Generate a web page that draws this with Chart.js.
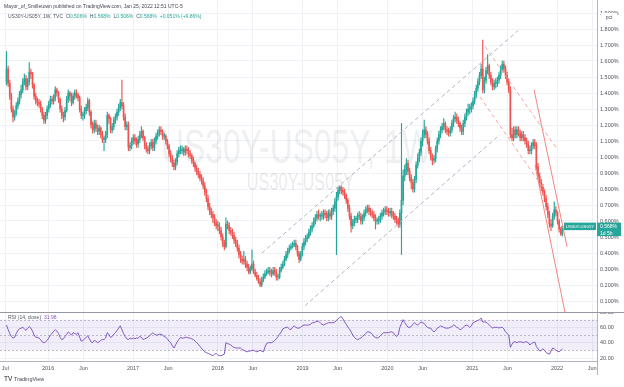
<!DOCTYPE html>
<html>
<head>
<meta charset="utf-8">
<script src="https://cdn.jsdelivr.net/npm/chart.js@4.4.1/dist/chart.umd.min.js"></script>
<style>
	html, body { margin: 0; padding: 0; background: #fff; }
	#wrap { position: relative; width: 624px; height: 387px; overflow: hidden; }
	canvas { position: absolute; left: 0; }
	#price { top: 0; }
	#rsi { top: 312px; }
</style>
</head>
<body>
<div id="wrap">
	<canvas id="price" width="624" height="312"></canvas>
	<canvas id="rsi" width="624" height="75"></canvas>
</div>
<script>
// weekly US30Y-US05Y spread (pct), first bar = week of 2015-07-06
const firstWeek = '2015-07-06';
const firstOpen = 1.47;
const closes = [
	1.55,1.46,1.38,1.30,1.25,1.27,1.32,1.35,1.39,1.42,
	1.47,1.49,1.44,1.47,1.53,1.52,1.45,1.38,1.35,1.34,
	1.33,1.30,1.26,1.23,1.26,1.30,1.33,1.36,1.35,1.37,
	1.42,1.40,1.36,1.30,1.26,1.25,1.29,1.36,1.40,1.38,
	1.34,1.38,1.40,1.39,1.37,1.30,1.26,1.26,1.29,1.31,
	1.35,1.28,1.20,1.17,1.21,1.18,1.16,1.18,1.14,1.11,
	1.11,1.14,1.26,1.24,1.17,1.19,1.23,1.25,1.28,1.31,
	1.34,1.32,1.25,1.19,1.20,1.06,1.07,1.10,1.12,1.10,
	1.08,1.11,1.14,1.16,1.12,1.07,1.05,1.04,1.07,1.09,
	1.06,1.10,1.13,1.15,1.17,1.16,1.13,1.13,1.10,1.07,
	1.02,0.99,0.96,0.94,0.97,1.02,1.04,1.04,1.05,1.03,
	1.05,1.04,1.02,1.01,0.98,0.96,0.93,0.91,0.89,0.87,
	0.85,0.82,0.78,0.74,0.69,0.66,0.64,0.62,0.59,0.57,
	0.57,0.54,0.50,0.46,0.44,0.58,0.57,0.54,0.53,0.51,
	0.48,0.46,0.43,0.39,0.36,0.35,0.36,0.33,0.31,0.28,
	0.30,0.33,0.28,0.26,0.24,0.22,0.20,0.23,0.25,0.27,
	0.28,0.29,0.28,0.27,0.29,0.28,0.25,0.25,0.29,0.31,
	0.33,0.36,0.39,0.41,0.43,0.44,0.45,0.46,0.44,0.40,
	0.36,0.39,0.44,0.47,0.49,0.50,0.53,0.55,0.57,0.60,
	0.62,0.64,0.63,0.63,0.63,0.65,0.64,0.62,0.65,0.63,
	0.66,0.68,0.72,0.75,0.79,0.81,0.79,0.78,0.76,0.73,
	0.68,0.63,0.57,0.59,0.61,0.61,0.63,0.63,0.60,0.62,
	0.65,0.67,0.68,0.66,0.65,0.64,0.62,0.60,0.60,0.61,
	0.63,0.65,0.66,0.67,0.66,0.65,0.66,0.64,0.63,0.61,
	0.60,0.58,0.65,0.73,0.88,0.92,0.96,0.91,0.87,0.84,
	0.80,0.86,0.95,0.99,1.03,1.10,1.14,1.17,1.14,1.10,
	1.04,1.00,0.98,0.99,1.05,1.10,1.14,1.17,1.19,1.21,
	1.17,1.16,1.15,1.17,1.21,1.24,1.25,1.23,1.21,1.18,
	1.16,1.21,1.25,1.28,1.30,1.30,1.32,1.35,1.39,1.43,
	1.47,1.51,1.55,1.42,1.48,1.54,1.57,1.51,1.47,1.44,
	1.46,1.46,1.48,1.51,1.55,1.58,1.55,1.51,1.47,1.42,
	1.14,1.12,1.17,1.14,1.17,1.15,1.12,1.14,1.12,1.10,
	1.08,1.04,1.04,1.07,1.09,1.07,0.94,0.88,0.84,0.81,
	0.78,0.74,0.69,0.64,0.58,0.57,0.63,0.67,0.65,0.60,
	0.55,0.517,0.568
];
const highs = [
	1.66,1.57,1.48,1.40,1.32,1.29,1.34,1.37,1.41,1.45,
	1.49,1.52,1.51,1.49,1.59,1.55,1.53,1.46,1.40,1.37,
	1.36,1.35,1.31,1.28,1.28,1.32,1.35,1.38,1.38,1.39,
	1.44,1.43,1.41,1.37,1.32,1.28,1.31,1.38,1.42,1.41,
	1.40,1.40,1.42,1.42,1.40,1.38,1.32,1.28,1.31,1.33,
	1.37,1.36,1.29,1.22,1.23,1.23,1.20,1.20,1.19,1.16,
	1.13,1.16,1.28,1.27,1.25,1.21,1.25,1.27,1.30,1.33,
	1.36,1.48,1.34,1.27,1.22,1.22,1.09,1.12,1.14,1.14,
	1.12,1.13,1.16,1.19,1.17,1.13,1.09,1.07,1.09,1.11,
	1.11,1.12,1.15,1.17,1.19,1.19,1.17,1.15,1.14,1.11,
	1.08,1.04,1.01,0.98,0.99,1.04,1.06,1.07,1.07,1.06,
	1.07,1.07,1.06,1.04,1.02,1.00,0.97,0.95,0.93,0.91,
	0.89,0.87,0.84,0.80,0.76,0.71,0.68,0.66,0.64,0.61,
	0.60,0.59,0.56,0.52,0.48,0.62,0.60,0.59,0.56,0.55,
	0.53,0.50,0.48,0.45,0.41,0.38,0.41,0.38,0.35,0.33,
	0.32,0.42,0.35,0.30,0.28,0.26,0.24,0.25,0.27,0.29,
	0.30,0.31,0.31,0.30,0.31,0.31,0.30,0.27,0.31,0.33,
	0.35,0.38,0.41,0.43,0.45,0.46,0.47,0.48,0.48,0.45,
	0.41,0.41,0.46,0.49,0.51,0.52,0.55,0.57,0.59,0.62,
	0.64,0.66,0.67,0.65,0.66,0.67,0.67,0.66,0.67,0.67,
	0.68,0.70,0.74,0.78,0.81,0.82,0.82,0.81,0.80,0.77,
	0.74,0.70,0.65,0.61,0.63,0.63,0.65,0.66,0.65,0.64,
	0.67,0.69,0.70,0.70,0.68,0.67,0.66,0.64,0.62,0.63,
	0.65,0.67,0.68,0.69,0.69,0.68,0.68,0.68,0.66,0.65,
	0.63,0.62,0.67,1.21,0.92,0.95,0.99,0.98,0.93,0.89,
	0.86,0.88,0.97,1.02,1.05,1.12,1.17,1.23,1.19,1.16,
	1.12,1.06,1.02,1.01,1.07,1.12,1.16,1.19,1.21,1.24,
	1.22,1.19,1.18,1.19,1.23,1.26,1.28,1.27,1.25,1.22,
	1.20,1.23,1.27,1.30,1.33,1.33,1.34,1.37,1.41,1.45,
	1.49,1.53,1.58,1.73,1.50,1.56,1.64,1.58,1.53,1.49,
	1.48,1.49,1.50,1.53,1.57,1.60,1.60,1.57,1.53,1.49,
	1.44,1.18,1.19,1.19,1.19,1.19,1.17,1.16,1.16,1.14,
	1.12,1.10,1.07,1.09,1.11,1.11,1.09,0.96,0.90,0.86,
	0.83,0.80,0.76,0.71,0.66,0.61,0.65,0.72,0.69,0.66,
	0.61,0.56,0.568
];
const lows = [
	1.45,1.44,1.36,1.28,1.22,1.23,1.26,1.30,1.33,1.37,
	1.40,1.45,1.42,1.42,1.45,1.49,1.43,1.36,1.33,1.32,
	1.31,1.28,1.24,1.21,1.21,1.24,1.28,1.31,1.33,1.33,
	1.35,1.38,1.34,1.28,1.24,1.22,1.23,1.28,1.34,1.35,
	1.32,1.33,1.36,1.37,1.35,1.28,1.24,1.23,1.24,1.27,
	1.29,1.26,1.18,1.15,1.15,1.16,1.14,1.14,1.12,1.09,
	1.04,1.09,1.12,1.21,1.15,1.15,1.17,1.21,1.23,1.26,
	1.29,1.30,1.23,1.17,1.17,1.04,1.04,1.05,1.08,1.08,
	1.06,1.06,1.09,1.12,1.10,1.05,1.03,1.02,1.02,1.05,
	1.04,1.04,1.08,1.11,1.13,1.14,1.11,1.11,1.08,1.05,
	1.00,0.97,0.94,0.92,0.92,0.95,1.00,1.02,1.02,1.01,
	1.01,1.02,1.00,0.99,0.96,0.94,0.91,0.89,0.87,0.85,
	0.83,0.80,0.76,0.72,0.67,0.64,0.62,0.59,0.57,0.55,
	0.54,0.52,0.48,0.44,0.42,0.43,0.55,0.52,0.51,0.49,
	0.46,0.44,0.41,0.37,0.34,0.33,0.33,0.31,0.29,0.27,
	0.27,0.29,0.27,0.25,0.23,0.21,0.19,0.19,0.22,0.24,
	0.26,0.27,0.26,0.25,0.26,0.26,0.23,0.23,0.24,0.28,
	0.30,0.32,0.35,0.37,0.40,0.42,0.43,0.44,0.42,0.38,
	0.34,0.35,0.38,0.42,0.45,0.47,0.49,0.51,0.53,0.56,
	0.58,0.60,0.61,0.60,0.61,0.61,0.62,0.60,0.60,0.61,
	0.61,0.64,0.66,0.39,0.73,0.77,0.77,0.76,0.74,0.71,
	0.66,0.61,0.53,0.55,0.57,0.59,0.59,0.61,0.58,0.58,
	0.60,0.63,0.65,0.64,0.63,0.62,0.60,0.55,0.58,0.58,
	0.59,0.61,0.63,0.64,0.64,0.63,0.63,0.62,0.61,0.59,
	0.58,0.56,0.56,0.39,0.70,0.85,0.89,0.89,0.85,0.80,
	0.78,0.78,0.84,0.93,0.97,1.01,1.07,1.12,1.12,1.08,
	1.02,0.98,0.95,0.96,0.97,1.03,1.08,1.12,1.15,1.17,
	1.15,1.14,1.13,1.13,1.15,1.19,1.22,1.21,1.19,1.16,
	1.14,1.14,1.19,1.23,1.26,1.27,1.28,1.30,1.33,1.37,
	1.41,1.45,1.49,1.40,1.40,1.46,1.52,1.49,1.45,1.42,
	1.42,1.43,1.44,1.46,1.49,1.53,1.53,1.49,1.45,1.40,
	1.12,1.10,1.10,1.12,1.12,1.13,1.10,1.10,1.10,1.08,
	1.06,1.02,1.02,1.02,1.05,1.05,0.92,0.86,0.82,0.79,
	0.76,0.72,0.67,0.62,0.56,0.54,0.56,0.61,0.63,0.58,
	0.53,0.51,0.506
];
// RSI(14, close), one value per weekly bar
const rsiValues = [
	63,57,52,48,46,47,52,56,58,59,
	60,58,56,59,61,59,55,50,47,47,
	46,44,41,40,41,43,46,50,52,55,
	57,55,52,47,44,45,48,51,54,52,
	50,53,52,51,53,47,42,43,45,47,
	49,45,41,40,43,42,40,41,43,44,
	44,46,53,51,47,48,51,53,56,59,
	62,57,52,48,45,44,46,45,46,45,
	46,46,48,47,44,45,46,47,49,51,
	53,51,50,50,51,51,50,48,47,45,
	42,40,36,33,37,41,44,47,46,46,
	47,47,46,46,45,44,42,40,38,35,
	33,30,28,27,26,25,24,23,25,26,
	24,23,23,24,25,40,39,38,37,35,
	34,33,33,33,33,31,30,29,28,29,
	29,30,30,29,28,29,30,29,28,34,
	39,40,40,40,41,43,45,48,51,54,
	58,59,60,60,58,57,60,62,60,59,
	59,60,62,63,63,63,63,64,66,66,
	67,68,68,66,64,63,64,65,66,66,
	66,66,67,69,71,73,74,71,67,64,
	60,58,54,50,47,45,44,45,46,48,
	50,52,54,54,53,51,48,47,46,47,
	49,51,53,53,53,53,54,54,53,50,
	48,50,60,65,70,66,63,60,60,61,
	64,66,64,63,65,67,66,65,62,60,
	59,59,56,54,56,59,60,62,61,60,
	59,59,59,60,61,63,62,60,59,57,
	58,60,62,63,62,60,62,66,67,68,
	69,70,72,67,67,67,65,63,61,59,
	60,60,60,59,60,60,58,54,52,50,
	34,38,41,41,40,41,41,41,40,41,
	41,40,37,39,40,41,35,32,29,30,
	32,30,27,26,25,29,33,32,30,29,
	28,30,31.98
];

const tickDates = ['2015-07-01', '2016-01-01', '2016-06-01', '2017-01-01', '2017-06-01', '2018-01-01', '2018-06-01', '2019-01-01', '2019-06-01', '2020-01-01', '2020-06-01', '2021-01-01', '2021-06-01', '2022-01-01', '2022-06-01'];
const tickLabels = ['Jul', '2016', 'Jun', '2017', 'Jun', '2018', 'Jun', '2019', 'Jun', '2020', 'Jun', '2021', 'Jun', '2022', 'Jun'];
const priceTicks = [0.1, 0.2, 0.3, 0.4, 0.5, 0.6, 0.7, 0.8, 0.9, 1.0, 1.1, 1.2, 1.3, 1.4, 1.5, 1.6, 1.7, 1.8, 1.9];
const rsiTicks = [20, 40, 60, 80];
const rsiBand = [30, 70];
const rsiMid = 50;

// the author's drawings, [date, pct] end points
const channelUpper = [['2018-07-10', 0.40], ['2021-07-17', 1.79]];
const channelLower = [['2019-01-11', 0.07], ['2021-04-30', 1.14]];
const fallUpper = [['2021-02-25', 1.69], ['2021-12-27', 1.06]];
const fallLower = [['2021-02-03', 1.375], ['2021-11-10', 0.79]];
const steepUpper = [['2021-09-24', 1.42], ['2022-02-13', 0.44]];
const steepLower = [['2021-09-28', 0.95], ['2022-02-04', 0.03]];

const quote = { open: '0.506%', high: '0.568%', low: '0.506%', close: '0.568%', change: '+0.051% (+9.86%)' };

Chart.defaults.font.family = '"Liberation Sans", Arial, sans-serif';

const day = (s) => Date.parse(s);
const WEEK = 7 * 24 * 3600 * 1000;
const X_MIN = day('2015-06-08');
const X_MAX = day('2022-06-22');
const UP = '#26a69a';
const DOWN = '#ef5350';
const GRID = '#eef1f6';
const AXIS = '#b2b5be';
const TEXT = '#50535e';
const RSI_COLOR = '#7e57c2';
const FONT = '"Liberation Sans", Arial, sans-serif';

const weeks = closes.map((c, i) => day(firstWeek) + i * WEEK);
const opens = closes.map((c, i) => (i === 0 ? firstOpen : closes[i - 1]));
const candleColors = closes.map((c, i) => (c >= opens[i] ? UP : DOWN));

const timeAxis = (labels) => ({
	type: 'linear',
	min: X_MIN,
	max: X_MAX,
	offset: false,
	afterBuildTicks: (scale) => {
		scale.ticks = tickDates.map((d) => ({ value: day(d) }));
	},
	afterFit: (scale) => {
		scale.paddingLeft = 0;
		scale.paddingRight = 0;
		scale.height = labels ? 14 : 0;
	},
	ticks: {
		display: labels,
		autoSkip: false,
		maxRotation: 0,
		padding: 4,
		color: TEXT,
		font: { size: 5.5 },
		callback: (v, i) => tickLabels[i]
	},
	grid: { color: GRID, drawTicks: false, offset: false },
	border: { display: labels, color: AXIS }
});

const valueAxis = (min, max, values, format) => ({
	position: 'right',
	min: min,
	max: max,
	afterBuildTicks: (scale) => {
		scale.ticks = values.map((v) => ({ value: v }));
	},
	afterFit: (scale) => {
		scale.width = 27;
		scale.paddingTop = 0;
		scale.paddingBottom = 0;
	},
	ticks: { color: TEXT, font: { size: 5.5 }, padding: 3, callback: format },
	grid: { color: GRID, drawTicks: false },
	border: { color: AXIS }
});

const writeText = (ctx, text, x, y, color, size = 5, align = 'left') => {
	ctx.font = `${size}px ${FONT}`;
	ctx.fillStyle = color;
	ctx.textAlign = align;
	ctx.textBaseline = 'alphabetic';
	ctx.fillText(text, x, y);
	return x + ctx.measureText(text).width;
};

const squeezed = (ctx, text, cx, baseline, size, sx, color) => {
	ctx.save();
	ctx.font = `${size}px ${FONT}`;
	ctx.fillStyle = color;
	ctx.textAlign = 'center';
	ctx.textBaseline = 'alphabetic';
	ctx.translate(cx, baseline);
	ctx.scale(sx, 1);
	ctx.fillText(text, 0, 0);
	ctx.restore();
};

const watermark = {
	id: 'watermark',
	beforeDatasetsDraw: (chart) => {
		const { ctx, chartArea } = chart;
		const cx = (chartArea.left + chartArea.right) / 2;
		squeezed(ctx, 'US30Y-US05Y, 1W', cx - 2, 163, 49, 0.65, 'rgba(80,85,95,0.09)');
		squeezed(ctx, 'US30Y-US05Y', cx + 2, 190, 23, 0.71, 'rgba(80,85,95,0.12)');
	}
};

const priceOverlay = {
	id: 'priceOverlay',
	afterDraw: (chart) => {
		const { ctx, chartArea } = chart;
		const y = chart.scales.y;
		writeText(ctx, 'Mayor_of_Smilletown published on TradingView.com, Jan 25, 2022 12:51 UTC-5', 4, 7.5, '#434651');
		let x = writeText(ctx, 'US30Y-US05Y, 1W, TVC', 8, 18, TEXT);
		[['O', quote.open], ['H', quote.high], ['L', quote.low], ['C', quote.close]].forEach(([label, value]) => {
			x = writeText(ctx, label, x + 3, 18, TEXT);
			x = writeText(ctx, value, x, 18, UP);
		});
		writeText(ctx, quote.change, x + 3, 18, UP);

		// unit label on the price scale
		ctx.fillStyle = '#fff';
		ctx.fillRect(chartArea.right + 4, 13, 16, 7);
		writeText(ctx, 'pct', chartArea.right + 12, 18.5, TEXT, 5, 'center');

		// last price tags
		const py = y.getPixelForValue(closes[closes.length - 1]);
		ctx.fillStyle = UP;
		ctx.fillRect(chartArea.right, py - 3.5, 24, 13.5);
		ctx.fillRect(chartArea.right - 33, py - 3.5, 32, 7.5);
		writeText(ctx, quote.close, chartArea.right + 3, py + 2, '#fff', 5);
		writeText(ctx, '1d 5h', chartArea.right + 3, py + 8.5, '#fff', 5);
		writeText(ctx, 'US30Y-US05Y', chartArea.right - 17, py + 2, '#fff', 4.3, 'center');
	}
};

const lineSet = (points, color, dash) => ({
	type: 'line',
	data: points.map(([d, v]) => ({ x: day(d), y: v })),
	borderColor: color,
	borderWidth: 1,
	borderDash: dash,
	pointRadius: 0,
	order: 1
});

new Chart(document.getElementById('price'), {
	type: 'bar',
	data: {
		datasets: [
			{
				data: weeks.map((w, i) => ({ x: w, y: [lows[i], highs[i]] })),
				backgroundColor: candleColors,
				barThickness: 0.5,
				grouped: false,
				order: 3
			},
			{
				data: weeks.map((w, i) => ({ x: w, y: [opens[i], closes[i]] })),
				backgroundColor: candleColors,
				barThickness: 1,
				minBarLength: 1,
				grouped: false,
				order: 2
			},
			lineSet(channelUpper, '#b2b5be', [4, 3]),
			lineSet(channelLower, '#b2b5be', [4, 3]),
			lineSet(fallUpper, '#f5a3a0', [4, 3]),
			lineSet(fallLower, '#f5a3a0', [4, 3]),
			lineSet(steepUpper, '#f08682', []),
			lineSet(steepLower, '#f08682', [])
		]
	},
	options: {
		responsive: false,
		animation: false,
		devicePixelRatio: 1,
		layout: { padding: 0 },
		plugins: { legend: { display: false }, tooltip: { enabled: false } },
		scales: {
			x: timeAxis(false),
			y: valueAxis(0.03125, 1.98125, priceTicks, (v) => `${v.toFixed(3)}%`)
		}
	},
	plugins: [watermark, priceOverlay]
});

const rsiOverlay = {
	id: 'rsiOverlay',
	beforeDatasetsDraw: (chart) => {
		const { ctx, chartArea } = chart;
		const y = chart.scales.y;
		const top = y.getPixelForValue(rsiBand[1]);
		const bottom = y.getPixelForValue(rsiBand[0]);
		ctx.save();
		ctx.fillStyle = 'rgba(126,87,194,0.1)';
		ctx.fillRect(chartArea.left, top, chartArea.right - chartArea.left, bottom - top);
		ctx.strokeStyle = 'rgba(120,123,134,0.45)';
		ctx.lineWidth = 1;
		ctx.setLineDash([2, 2]);
		[rsiBand[1], rsiMid, rsiBand[0]].forEach((v) => {
			const py = Math.round(y.getPixelForValue(v)) + 0.5;
			ctx.beginPath();
			ctx.moveTo(chartArea.left, py);
			ctx.lineTo(chartArea.right, py);
			ctx.stroke();
		});
		ctx.restore();
	},
	afterDraw: (chart) => {
		const { ctx, chartArea } = chart;
		ctx.save();
		ctx.strokeStyle = '#9598a1';
		ctx.lineWidth = 1;
		ctx.beginPath();
		ctx.moveTo(0, 0.5);
		ctx.lineTo(chart.width, 0.5);
		ctx.stroke();
		ctx.strokeStyle = AXIS;
		ctx.beginPath();
		ctx.moveTo(chartArea.right + 0.5, chartArea.bottom);
		ctx.lineTo(chartArea.right + 0.5, 63);
		ctx.stroke();
		ctx.restore();
		const x = writeText(ctx, 'RSI (14, close)', 8, 6.5, TEXT);
		writeText(ctx, rsiValues[rsiValues.length - 1].toFixed(2), x + 3, 6.5, RSI_COLOR);
		writeText(ctx, 'TV', 4, 69, '#131722', 6.5);
		writeText(ctx, 'TradingView', 14, 69, '#434651', 5.5);
	}
};

new Chart(document.getElementById('rsi'), {
	type: 'line',
	data: {
		datasets: [
			{
				data: weeks.map((w, i) => ({ x: w, y: rsiValues[i] })),
				borderColor: RSI_COLOR,
				borderWidth: 1,
				pointRadius: 0,
				tension: 0
			}
		]
	},
	options: {
		responsive: false,
		animation: false,
		devicePixelRatio: 1,
		layout: { padding: { left: 0, right: 0, top: 0, bottom: 12 } },
		plugins: { legend: { display: false }, tooltip: { enabled: false } },
		scales: {
			x: timeAxis(true),
			y: valueAxis(16.1, 80, rsiTicks, (v) => v.toFixed(2))
		}
	},
	plugins: [rsiOverlay]
});
</script>
</body>
</html>
